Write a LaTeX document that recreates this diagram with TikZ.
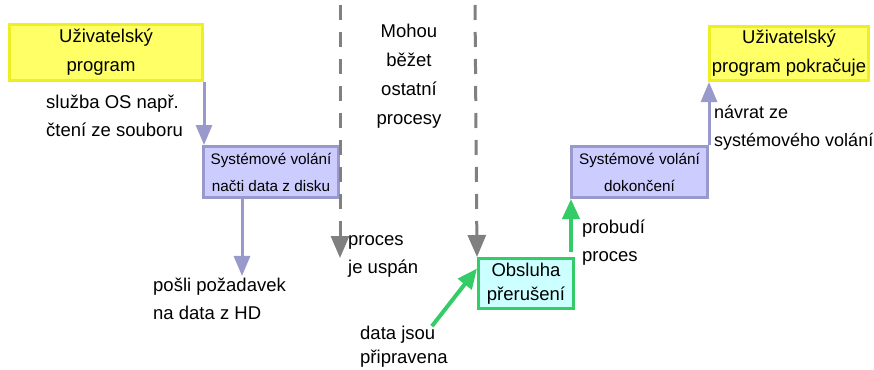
\documentclass[tikz,border=0pt]{standalone}
\usepackage{fontspec}
\setmainfont{Liberation Sans}
\usetikzlibrary{arrows.meta,calc}
\definecolor{useryellow}{RGB}{255,255,102}
\definecolor{useredge}{RGB}{238,238,34}
\definecolor{callfill}{RGB}{204,204,255}
\definecolor{calledge}{RGB}{153,153,204}
\definecolor{irqfill}{RGB}{204,255,255}
\definecolor{irqedge}{RGB}{51,204,102}
\definecolor{waitgray}{RGB}{128,128,128}

\begin{document}
\begin{tikzpicture}[x=1pt,y=-1pt]
	\tikzstyle{userbox} = [rectangle, draw=useredge, fill=useryellow, line width=3pt, align=center, inner sep=0pt, font=\fontsize{18.5}{29}\selectfont]
	\tikzstyle{callbox} = [rectangle, draw=calledge, fill=callfill, line width=3pt, align=center, inner sep=0pt, font=\fontsize{15.3}{27}\selectfont]
	\tikzstyle{irqbox} = [rectangle, draw=irqedge, fill=irqfill, line width=3pt, align=center, inner sep=0pt, font=\fontsize{18.5}{24}\selectfont]
	\tikzstyle{note} = [align=left, inner sep=2pt, font=\fontsize{18.5}{28}\selectfont]
	\tikzstyle{callarrow} = [draw=calledge, line width=3pt, -{Triangle[width=16pt,length=20pt]}]
	\tikzstyle{irqarrow} = [draw=irqedge, line width=4pt, -{Triangle[width=17pt,length=20pt]}]
	\tikzstyle{waitline} = [draw=waitgray, line width=3pt, dash pattern=on 15pt off 12pt, -{Triangle[width=18pt,length=22pt]}]
\useasboundingbox (0,0) rectangle (874,369);
\node [userbox, minimum width=193pt, minimum height=56pt] at (106,52.5) (prog) {Uživatelský\\program\hspace*{10pt}};
\node [callbox, minimum width=135pt, minimum height=51pt] at (271,172) (read) {Systémové volání\\načti data z disku};
\node [irqbox, minimum width=95pt, minimum height=50pt] at (526,283.5) (irq) {Obsluha\\přerušení};
\node [callbox, minimum width=136pt, minimum height=51pt] at (639.5,172) (done) {Systémové volání\\dokončení};
\node [userbox, minimum width=159pt, minimum height=54pt] at (789,53.5) (cont) {Uživatelský\\program pokračuje};
\node [note, anchor=west] at (44,116) (svc) {služba OS např.\\čtení ze souboru};
\node [note, anchor=west] at (151,299) (req) {pošli požadavek\\na data z HD};
\node [note, align=center, font=\fontsize{18.5}{29}\selectfont] at (409,76) (others) {Mohou\\běžet\\ostatní\\procesy};
\node [note, anchor=west] at (346,256) (sleep) {proces\\je uspán};
\node [note, anchor=west, font=\fontsize{18.5}{24}\selectfont] at (358,347) (ready) {data jsou\\připravena};
\node [note, anchor=west] at (580,243) (wake) {probudí\\proces};
\node [note, anchor=west, inner sep=1pt, font=\fontsize{18}{28}\selectfont] at (713,128) (ret) {návrat ze\\systémového volání};
\coordinate (wait1) at (340,5);
\coordinate (wait2) at (475,5);
\coordinate (sleepend) at (340,258);
\coordinate (hdreq) at ($(read.south west)+(40,0)$);
\coordinate (dataok) at ($(ready.north)+(28,2)$);
\coordinate (wakeup) at ($(irq.north east)+(-4,-5)$);
\path [callarrow] (prog.south east) -- (prog.south east |- read.north);
\path [callarrow] (hdreq) -- (hdreq |- req.north);
\path [waitline] (wait1) -- (sleepend);
\path [waitline] (wait2) -- (irq.north west);
\path [irqarrow] (dataok) -- (irq.163);
\path [irqarrow] (wakeup) -- (wakeup |- done.south);
\path [callarrow] (done.north east) -- (done.north east |- cont.south);
\end{tikzpicture}
\end{document}
